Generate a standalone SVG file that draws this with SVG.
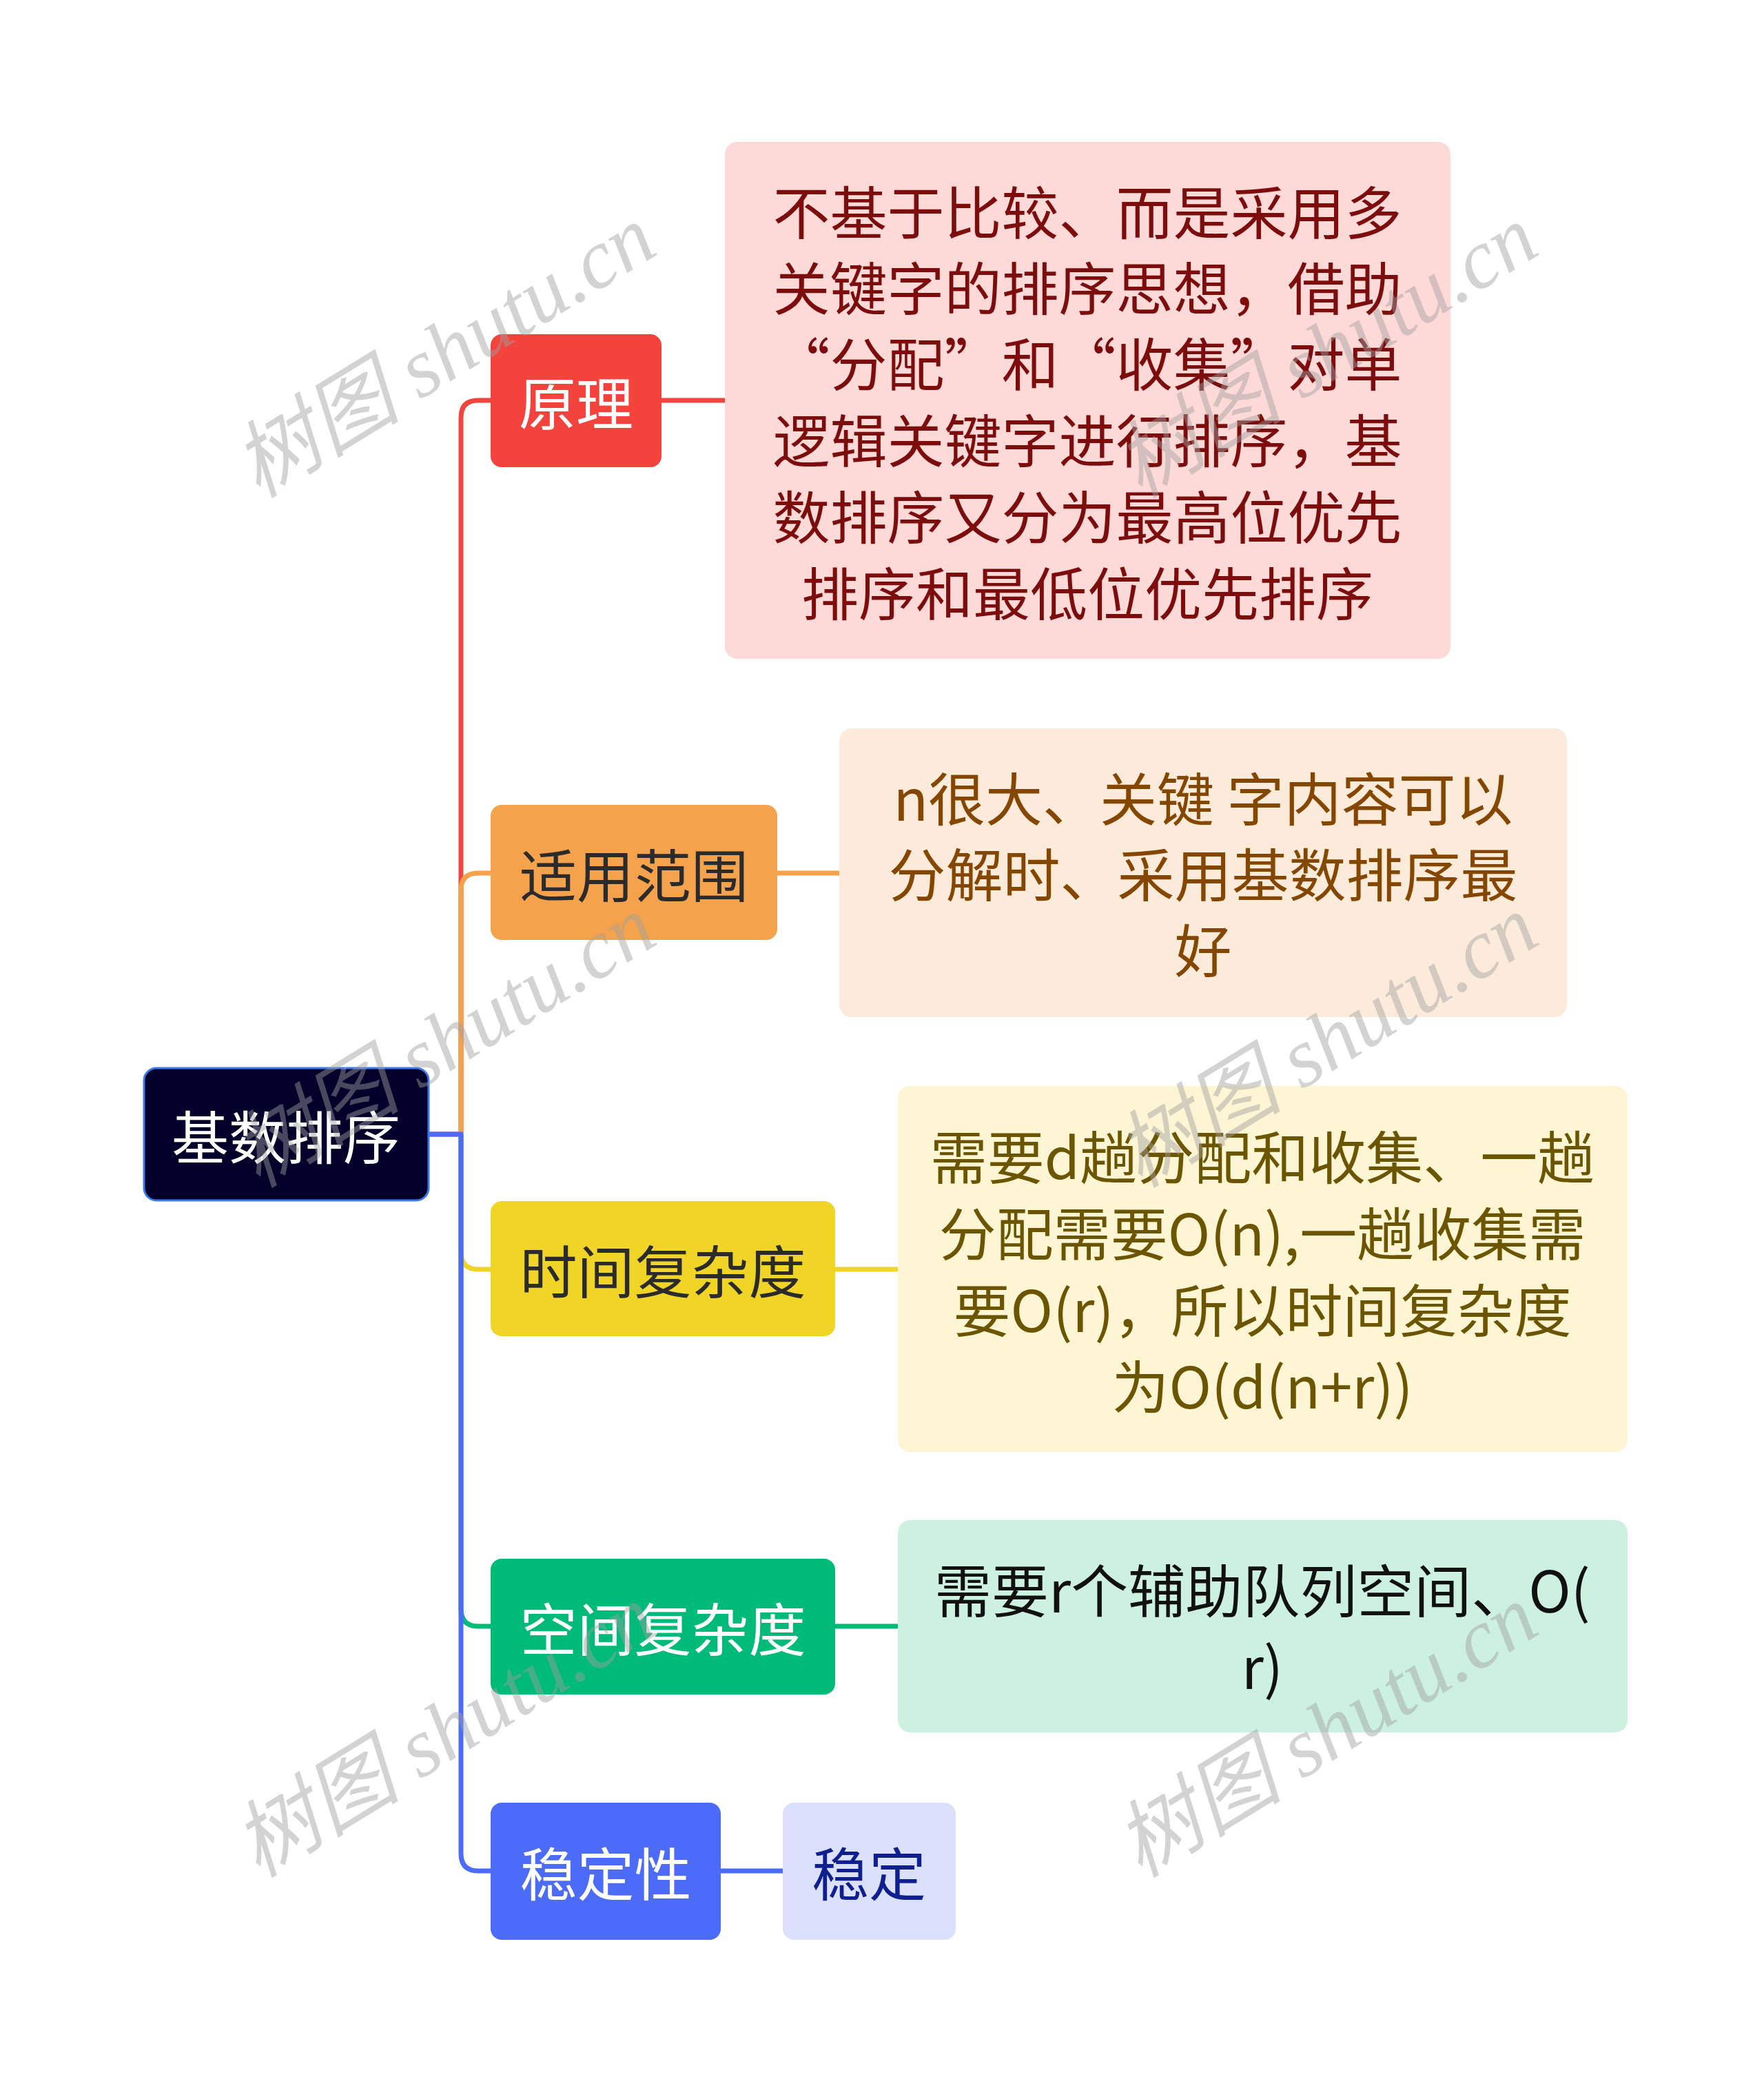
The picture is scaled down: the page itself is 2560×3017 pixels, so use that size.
<svg xmlns="http://www.w3.org/2000/svg" width="2560" height="3017" viewBox="0 0 2560 3017">
<style>
text{font-family:"Noto Sans CJK SC","Liberation Sans",sans-serif;font-size:83px;text-anchor:middle;dominant-baseline:central}
.con{fill:none;stroke-width:7;stroke-linecap:butt}
.wm{font-family:"Liberation Serif","Noto Sans CJK SC",serif;font-style:italic;font-size:122px;fill:#a0a0a0;opacity:0.45}
</style>
<rect width="2560" height="3017" fill="#ffffff"/>
<g id="connectors">
<path class="con" stroke="#f0443c" d="M622 1646H669V606Q669 581 694 581H712M960 581H1054"/>
<path class="con" stroke="#f5a04a" d="M669 1646V1292Q669 1267 694 1267H712M1128 1267H1220"/>
<path class="con" stroke="#f0d426" d="M669 1646V1817Q669 1842 694 1842H712M1212 1842H1305"/>
<path class="con" stroke="#00bb78" d="M669 1646V2335Q669 2360 694 2360H712M1212 2360H1305"/>
<path class="con" stroke="#4b6bf8" d="M669 1646V2690Q669 2715 694 2715H712M1046 2715H1138"/>
<path class="con" stroke="#4b6bf8" d="M620 1646H672"/>
</g>
<g id="root">
<rect x="209" y="1550" width="413" height="192" rx="18" fill="#02002a" stroke="#3c7af0" stroke-width="3"/>
<text x="415" y="1646" fill="#ffffff">基数排序</text>
</g>
<g id="n1">
<rect x="712" y="485" width="248" height="193" rx="16" fill="#f4433c"/>
<text x="836" y="581" fill="#ffffff">原理</text>
</g>
<g id="n1d">
<rect x="1052" y="206" width="1053" height="750" rx="18" fill="#fdd9d8"/>
<g fill="#7d0c0c">
<text x="1578" y="304">不基于比较、而是采用多</text>
<text x="1578" y="414">关键字的排序思想，借助</text>
<text x="1578" y="524">“分配”和“收集”对单</text>
<text x="1578" y="635">逻辑关键字进行排序，基</text>
<text x="1578" y="746">数排序又分为最高位优先</text>
<text x="1578" y="857">排序和最低位优先排序</text>
</g>
</g>
<g id="n2">
<rect x="712" y="1168" width="416" height="196" rx="16" fill="#f5a24c"/>
<text x="920" y="1266" fill="#2b2b2b">适用范围</text>
</g>
<g id="n2d">
<rect x="1218" y="1057" width="1056" height="419" rx="18" fill="#fcebdb"/>
<g fill="#854600">
<text x="1746" y="1155">n很大、关键 字内容可以</text>
<text x="1746" y="1265">分解时、采用基数排序最</text>
<text x="1746" y="1375">好</text>
</g>
</g>
<g id="n3">
<rect x="712" y="1743" width="500" height="196" rx="16" fill="#f0d426"/>
<text x="962" y="1841" fill="#2b2b2b">时间复杂度</text>
</g>
<g id="n3d">
<rect x="1303" y="1576" width="1059" height="531" rx="18" fill="#fdf5d3"/>
<g fill="#6b5500">
<text x="1832" y="1675">需要d趟分配和收集、一趟</text>
<text x="1832" y="1786">分配需要O(n),一趟收集需</text>
<text x="1832" y="1897">要O(r)，所以时间复杂度</text>
<text x="1832" y="2008">为O(d(n+r))</text>
</g>
</g>
<g id="n4">
<rect x="712" y="2262" width="500" height="197" rx="16" fill="#00bb78"/>
<text x="962" y="2360" fill="#ffffff">空间复杂度</text>
</g>
<g id="n4d">
<rect x="1303" y="2206" width="1059" height="308" rx="18" fill="#cdf1e1"/>
<g fill="#111111">
<text x="1832" y="2304">需要r个辅助队列空间、O(</text>
<text x="1832" y="2415">r)</text>
</g>
</g>
<g id="n5">
<rect x="712" y="2616" width="334" height="199" rx="16" fill="#4b6bf8"/>
<text x="879" y="2715" fill="#ffffff">稳定性</text>
</g>
<g id="n5d">
<rect x="1136" y="2616" width="251" height="199" rx="16" fill="#dbe1fc"/>
<text x="1261" y="2715" fill="#0f1f8f">稳定</text>
</g>
<g id="watermarks">
<text class="wm" x="645" y="510" transform="rotate(-31.5 645 510)">树图 shutu.cn</text>
<text class="wm" x="645" y="1511" transform="rotate(-31.5 645 1511)">树图 shutu.cn</text>
<text class="wm" x="645" y="2512" transform="rotate(-31.5 645 2512)">树图 shutu.cn</text>
<text class="wm" x="1925" y="510" transform="rotate(-31.5 1925 510)">树图 shutu.cn</text>
<text class="wm" x="1925" y="1511" transform="rotate(-31.5 1925 1511)">树图 shutu.cn</text>
<text class="wm" x="1925" y="2512" transform="rotate(-31.5 1925 2512)">树图 shutu.cn</text>
</g>
</svg>
